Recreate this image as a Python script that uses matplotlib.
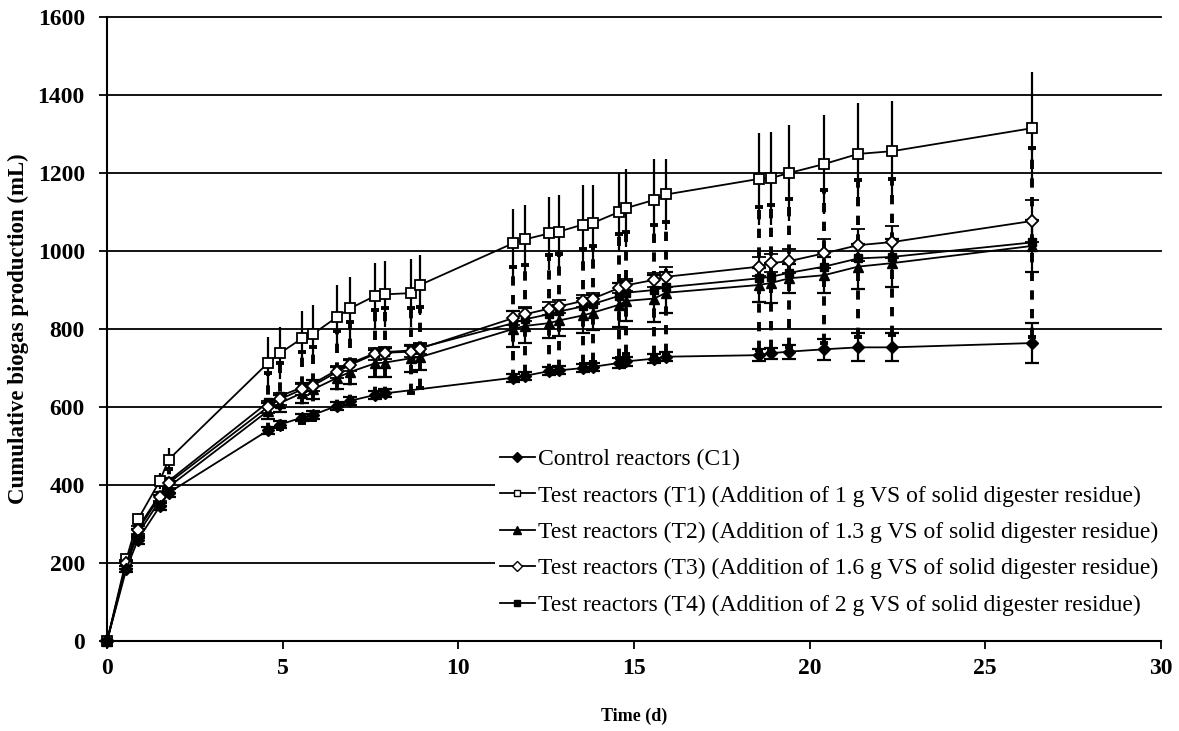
import matplotlib
matplotlib.use("Agg")
import matplotlib.pyplot as plt
from matplotlib.lines import Line2D

plt.rcParams['font.family'] = ['Liberation Serif', 'DejaVu Serif']

# ---------------- data ----------------
time = [0, 0.55, 0.88, 1.5, 1.75, 4.58, 4.92, 5.55, 5.86, 6.55, 6.92, 7.63, 7.91,
        8.65, 8.91, 11.56, 11.9, 12.58, 12.87, 13.55, 13.83, 14.57, 14.77, 15.57,
        15.91, 18.56, 18.9, 19.41, 20.41, 21.38, 22.35, 26.33]

c1_time = [0, 0.55, 0.88, 1.5, 1.75, 4.58, 4.92, 5.55, 5.86, 6.55, 6.92, 7.63, 7.91,
           11.56, 11.9, 12.58, 12.87, 13.55, 13.83, 14.57, 14.77, 15.57,
           15.91, 18.56, 18.9, 19.41, 20.41, 21.38, 22.35, 26.33]
c1_val = [0, 185, 260, 345, 380, 540, 555, 573, 580, 603, 616, 631, 635,
          675, 680, 692, 694, 700, 703, 713, 717, 724, 729,
          733, 738, 742, 748, 753, 753, 764]
c1_err = [0, 8, 10, 10, 10, 10, 10, 10, 10, 10, 10, 10, 10,
          10, 10, 10, 10, 10, 10, 12, 12, 12, 12,
          15, 14, 18, 27, 36, 36, 51]

t1_val = [0, 210, 312, 410, 465, 713, 738, 776, 787, 831, 853, 885, 889, 892, 913,
          1020, 1030, 1045, 1050, 1068, 1072, 1100, 1110, 1131, 1145,
          1185, 1187, 1200, 1223, 1249, 1256, 1315]
t1_err = [0, 12, 15, 20, 30, 66, 67, 70, 75, 82, 80, 84, 85, 87, 77,
          87, 88, 93, 94, 101, 97, 100, 100, 106, 91,
          117, 119, 123, 127, 131, 128, 143]

t2_val = [0, 195, 275, 360, 395, 590, 610, 636, 645, 675, 690, 712, 714, 725, 728,
          800, 808, 815, 822, 835, 842, 862, 872, 878, 893,
          913, 918, 930, 938, 960, 969, 1013]
t2_err = [0, 10, 12, 15, 15, 20, 22, 25, 25, 28, 30, 35, 37, 34, 33,
          45, 45, 38, 40, 45, 45, 57, 52, 60, 52,
          44, 51, 38, 46, 58, 62, 67]

t3_val = [0, 200, 285, 370, 405, 600, 620, 645, 655, 690, 708, 736, 739, 742, 750,
          828, 838, 852, 858, 872, 878, 905, 912, 926, 934,
          960, 969, 974, 994, 1015, 1023, 1077]
t3_err = [0, 8, 10, 12, 12, 15, 15, 15, 15, 15, 15, 15, 15, 14, 14,
          18, 18, 17, 17, 15, 15, 13, 15, 18, 26,
          25, 23, 31, 37, 41, 41, 55]

t4_val = [0, 200, 290, 375, 410, 612, 628, 650, 660, 695, 712, 738, 741, 745, 752,
          815, 825, 838, 845, 858, 864, 885, 893, 900, 907,
          930, 934, 944, 960, 981, 985, 1022]
t4_err = [0, 15, 20, 25, 30, 75, 85, 91, 93, 100, 105, 111, 113, 108, 104,
          144, 140, 151, 148, 148, 148, 159, 157, 166, 168,
          183, 184, 189, 196, 202, 200, 243]

labels = ["Control reactors (C1)",
          "Test reactors (T1) (Addition of 1 g VS of solid digester residue)",
          "Test reactors (T2) (Addition of 1.3 g VS of solid digester residue)",
          "Test reactors (T3) (Addition of 1.6 g VS of solid digester residue)",
          "Test reactors (T4) (Addition of 2 g VS of solid digester residue)"]

x_ticks = [0, 5, 10, 15, 20, 25, 30]
y_ticks = [0, 200, 400, 600, 800, 1000, 1200, 1400, 1600]

# ---------------- figure ----------------
fig = plt.figure(figsize=(11.79, 7.31), dpi=100)
ax = fig.add_axes([0.0908, 0.1231, 0.8939, 0.8536])
ax.set_xlim(0, 30)
ax.set_ylim(0, 1600)

for yv in y_ticks[1:]:
    ax.axhline(yv, color='black', lw=1.3, zorder=1, clip_on=False)

lw = 1.3
# T4: dashed thick error bars
e4 = ax.errorbar(time, t4_val, yerr=t4_err, fmt='-', color='black', lw=lw,
                 marker='s', ms=6, mfc='black', mec='black',
                 elinewidth=2.8, capsize=3, capthick=2.8, zorder=3, clip_on=False)
e4[2][0].set_linestyle((0, (2.4, 2.4)))

# T1: solid bars without caps
ax.errorbar(time, t1_val, yerr=t1_err, fmt='-', color='black', lw=lw,
            marker='s', ms=7, mfc='white', mec='black', mew=1.3,
            elinewidth=1.6, capsize=0, zorder=4, clip_on=False)

# T2
ax.errorbar(time, t2_val, yerr=t2_err, fmt='-', color='black', lw=lw,
            marker='^', ms=7, mfc='black', mec='black',
            elinewidth=1.6, capsize=5, capthick=1.6, zorder=4, clip_on=False)
# T3
ax.errorbar(time, t3_val, yerr=t3_err, fmt='-', color='black', lw=lw,
            marker='D', ms=6, mfc='white', mec='black', mew=1.3,
            elinewidth=1.6, capsize=5, capthick=1.6, zorder=4, clip_on=False)
# C1
ax.errorbar(c1_time, c1_val, yerr=c1_err, fmt='-', color='black', lw=lw,
            marker='D', ms=6, mfc='black', mec='black',
            elinewidth=1.6, capsize=5, capthick=1.6, zorder=4, clip_on=False)

# axes styling
for s in ['top', 'right']:
    ax.spines[s].set_visible(False)
for s in ['left', 'bottom']:
    ax.spines[s].set_linewidth(1.5)
    ax.spines[s].set_zorder(5)

ax.set_xticks(x_ticks)
ax.set_yticks(y_ticks)
ax.tick_params(direction='out', length=6, width=1.3, labelsize=17)
ax.tick_params(axis='y', pad=10)
ax.tick_params(axis='x', pad=6)
for lab in ax.get_xticklabels() + ax.get_yticklabels():
    lab.set_fontweight('bold')

ax.set_xlabel("Time (d)", fontsize=13, fontweight='bold', labelpad=21)
ax.set_ylabel("Cumulative biogas production (mL)", fontsize=16.5, fontweight='bold', labelpad=6)

handles = [
    Line2D([], [], color='black', lw=lw, marker='D', ms=5, mfc='black', mec='black'),
    Line2D([], [], color='black', lw=lw, marker='s', ms=5, mfc='white', mec='black'),
    Line2D([], [], color='black', lw=lw, marker='^', ms=6, mfc='black', mec='black'),
    Line2D([], [], color='black', lw=lw, marker='D', ms=5, mfc='white', mec='black'),
    Line2D([], [], color='black', lw=lw, marker='s', ms=5, mfc='black', mec='black'),
]
leg = ax.legend(handles, labels, loc='upper left',
                bbox_to_anchor=(495 / 1179, 1 - 444 / 731),
                bbox_transform=fig.transFigure,
                fontsize=17, frameon=True, fancybox=False, framealpha=1,
                edgecolor='none', facecolor='white', borderpad=0.2,
                labelspacing=0.63, handlelength=1.5, handletextpad=0.12,
                borderaxespad=0)
leg.set_zorder(6)

fig.savefig("out.png", dpi=100)
